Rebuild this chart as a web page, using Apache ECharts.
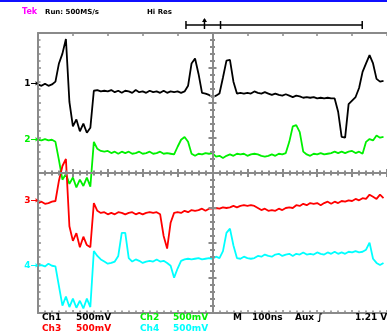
<!DOCTYPE html>
<html>
<head>
<meta charset="utf-8">
<script src="https://cdn.jsdelivr.net/npm/echarts@6/dist/echarts.min.js"></script>
<style>
  html, body { margin: 0; padding: 0; background: #fff; }
  #chart { width: 387px; height: 336px; }
</style>
</head>
<body>
<div id="chart"></div>
<script>
// sample times in ns (100 ns/div, trigger at 0)
const timeNs = [-500,-490,-480,-470,-460,-450,-440,-430,-420,-410,
  -400,-390,-380,-370,-360,-350,-340,-330,-320,-310,
  -300,-290,-280,-270,-260,-250,-240,-230,-220,-210,
  -200,-190,-180,-170,-160,-150,-140,-130,-120,-110,
  -100,-90,-80,-70,-60,-50,-40,-30,-20,-10,
  0,10,20,30,40,50,60,70,80,90,
  100,110,120,130,140,150,160,170,180,190,
  200,210,220,230,240,250,260,270,280,290,
  300,310,320,330,340,350,360,370,380,390,
  400,410,420,430,440,450,460,470,480,490]

// mV relative to each channel's ground marker
const ch1mV = [-10,-30,0,-30,-10,30,290,430,640,-260,
  -610,-510,-680,-570,-700,-630,-100,-90,-110,-100,
  -110,-90,-120,-100,-130,-100,-110,-130,-90,-120,
  -110,-130,-100,-120,-110,-130,-100,-130,-110,-120,
  -110,-130,-110,-30,290,360,140,-130,-140,-160,
  -190,-170,-140,90,330,340,30,-140,-130,-140,
  -130,-140,-110,-130,-140,-120,-140,-160,-140,-160,
  -170,-150,-170,-190,-170,-180,-200,-190,-200,-190,
  -210,-200,-210,-200,-210,-210,-400,-760,-770,-290,
  -240,-190,-60,170,290,410,290,70,30,40]
const ch2mV = [0,-10,10,-10,0,-30,-290,-570,-490,-630,
  -540,-680,-570,-660,-540,-670,-30,-130,-160,-170,
  -160,-190,-170,-200,-170,-190,-170,-200,-190,-170,
  -200,-190,-170,-200,-190,-170,-200,-190,-200,-210,
  -100,0,40,-30,-200,-230,-200,-210,-190,-200,
  -190,-240,-230,-260,-230,-210,-230,-200,-210,-200,
  -230,-210,-200,-210,-230,-240,-230,-210,-230,-200,
  -210,-190,-30,190,210,110,-170,-210,-230,-200,
  -210,-190,-210,-200,-190,-170,-190,-170,-190,-170,
  -160,-190,-170,-200,-30,10,-10,60,30,40]
const ch3mV = [-30,-10,-40,-30,-10,0,290,500,600,-360,
  -570,-460,-660,-510,-630,-660,-30,-140,-170,-160,
  -190,-170,-190,-160,-170,-190,-170,-160,-190,-170,
  -190,-170,-160,-170,-160,-190,-500,-680,-310,-170,
  -160,-170,-140,-160,-130,-140,-130,-110,-140,-110,
  -110,-100,-110,-90,-100,-90,-70,-90,-70,-60,
  -70,-60,-70,-100,-130,-110,-140,-130,-140,-110,
  -130,-100,-90,-100,-60,-70,-40,-60,-30,-40,
  -30,-60,-30,-10,-40,-10,-30,0,-10,10,
  0,30,10,40,30,90,60,30,90,40]
const ch4mV = [0,10,-10,30,0,-10,-290,-570,-440,-590,
  -470,-600,-500,-610,-470,-590,210,140,90,60,
  30,40,60,140,470,470,110,60,90,70,
  40,60,70,60,90,60,70,40,0,-170,
  -40,70,90,100,90,100,110,90,100,110,
  100,130,110,210,470,530,290,110,100,130,
  110,100,110,140,130,160,140,130,160,170,
  140,160,170,140,170,160,190,160,170,160,
  190,170,160,190,170,200,170,190,170,200,
  190,210,190,200,230,330,100,40,10,40]

const channelNames = ['1', '2', '3', '4']
const channelPosDiv = [2.55, 0.95, -0.8, -2.65]
const channelColors = ['#000000', '#00f000', '#ff0000', '#00ffff']
const traces = [ch1mV, ch2mV, ch3mV, ch4mV]
const mVPerDiv = 500

const gray = '#8a8a8a'
const font = 'DejaVu Sans'

const chart = echarts.init(document.getElementById('chart'))

function frameAxis (extra) {
  return Object.assign({
    type: 'value',
    z: 5,
    axisLine: { show: true, onZero: false, lineStyle: { color: gray, width: 2 } },
    axisTick: { show: true, inside: true, length: 3, lineStyle: { color: gray, width: 1.5 } },
    minorTick: { show: false },
    axisLabel: { show: false },
    splitLine: { show: false }
  }, extra)
}

function crossAxis (extra, inside) {
  return Object.assign({
    type: 'value',
    z: 5,
    axisLine: { show: true, onZero: true, lineStyle: { color: gray, width: 2 } },
    axisTick: { show: true, inside: inside, length: 4, lineStyle: { color: gray, width: 2 } },
    minorTick: { show: true, splitNumber: 5, length: 2.5, lineStyle: { color: gray, width: 2 } },
    axisLabel: { show: false },
    splitLine: { show: false }
  }, extra)
}

const gridRect = { left: 38, top: 33, width: 354, height: 280 }
const xRange = { min: -500, max: 500, interval: 100 }
const yRange = { min: -4, max: 4, interval: 1 }

chart.setOption({
  animation: false,
  backgroundColor: '#ffffff',
  grid: [
    Object.assign({}, gridRect),
    Object.assign({}, gridRect),
    Object.assign({}, gridRect)
  ],
  xAxis: [
    frameAxis(Object.assign({ gridIndex: 0, position: 'bottom',
      minorTick: { show: true, splitNumber: 5, length: 2.5, lineStyle: { color: gray, width: 1.5 } } }, xRange)),
    frameAxis(Object.assign({ gridIndex: 0, position: 'top' }, xRange)),
    crossAxis(Object.assign({ gridIndex: 1 }, xRange), true),
    crossAxis(Object.assign({ gridIndex: 2 }, xRange), false)
  ],
  yAxis: [
    frameAxis(Object.assign({ gridIndex: 0, position: 'left',
      minorTick: { show: true, splitNumber: 5, length: 2.5, lineStyle: { color: gray, width: 1.5 } } }, yRange)),
    crossAxis(Object.assign({ gridIndex: 1 }, yRange), true),
    crossAxis(Object.assign({ gridIndex: 2 }, yRange), false)
  ],
  series: traces.map((mv, c) => ({
    type: 'line',
    xAxisIndex: 0,
    yAxisIndex: 0,
    z: 2,
    showSymbol: false,
    symbol: 'none',
    clip: true,
    lineStyle: { color: channelColors[c], width: 1.8 },
    data: timeNs.map((t, i) => [t, channelPosDiv[c] + mv[i] / mVPerDiv])
  }))
})

// scope screen annotations
const px = (t, d) => chart.convertToPixel({ xAxisIndex: 0, yAxisIndex: 0 }, [t, d])

const graphics = []
graphics.push({ type: 'rect', shape: { x: 0, y: 0, width: 387, height: 2 }, style: { fill: '#1010ff' } })

function label (x, y, text, color, size, align) {
  graphics.push({
    type: 'text', x: x, y: y, z: 10,
    style: { text: text, fill: color, font: 'bold ' + size + 'px "' + font + '"',
      textAlign: align || 'left', textVerticalAlign: 'middle' }
  })
}

label(22, 12, 'Tek', '#ff00ff', 8)
label(45, 12, 'Run: 500MS/s', '#000', 7)
label(147, 12, 'Hi Res', '#000', 7)

// record / trigger position bar
const barY = 25
const barL = px(-76, 0)[0]
const barR = px(429, 0)[0]
const trigX = px(-23, 0)[0]
const posX = px(23, 0)[0]
const lineStyle = { stroke: '#000', lineWidth: 1.5 }
graphics.push({ type: 'line', shape: { x1: barL, y1: barY, x2: barR, y2: barY }, style: lineStyle })
graphics.push({ type: 'line', shape: { x1: barL, y1: barY - 4, x2: barL, y2: barY + 4 }, style: lineStyle })
graphics.push({ type: 'line', shape: { x1: barR, y1: barY - 4, x2: barR, y2: barY + 4 }, style: lineStyle })
graphics.push({ type: 'line', shape: { x1: posX, y1: barY - 4, x2: posX, y2: barY + 4 }, style: lineStyle })
graphics.push({ type: 'line', shape: { x1: trigX, y1: barY - 6, x2: trigX, y2: barY + 4 }, style: lineStyle })
graphics.push({ type: 'polygon', shape: { points: [[trigX - 2.5, barY - 3], [trigX + 2.5, barY - 3], [trigX, barY - 7]] }, style: { fill: '#000' } })

// channel ground markers
channelNames.forEach((n, c) => {
  const y = px(-500, channelPosDiv[c])[1]
  label(38, y, n + '\u2192', channelColors[c], 9, 'right')
})

// bottom readout
const row1 = 318
const row2 = 329
label(42, row1, 'Ch1', channelColors[0], 9)
label(76, row1, '500mV', channelColors[0], 9)
label(140, row1, 'Ch2', channelColors[1], 9)
label(173, row1, '500mV', channelColors[1], 9)
label(233, row1, 'M', '#000', 9)
label(252, row1, '100ns', '#000', 9)
label(295, row1, 'Aux \u222b', '#000', 9)
label(355, row1, '1.21 V', '#000', 9)
label(42, row2, 'Ch3', channelColors[2], 9)
label(76, row2, '500mV', channelColors[2], 9)
label(140, row2, 'Ch4', channelColors[3], 9)
label(173, row2, '500mV', channelColors[3], 9)

chart.setOption({ graphic: graphics })
</script>
</body>
</html>
